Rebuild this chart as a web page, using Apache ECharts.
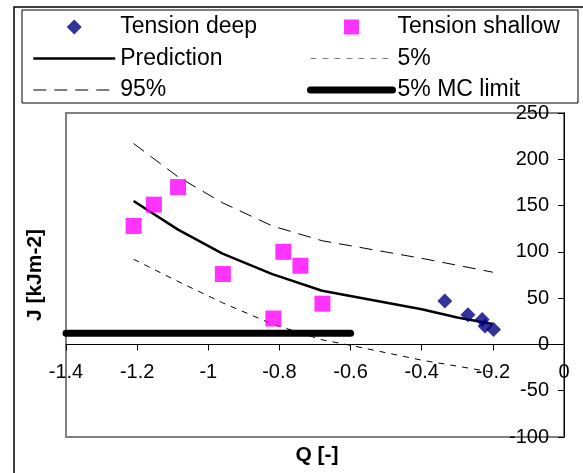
<!DOCTYPE html>
<html>
<head>
<meta charset="utf-8">
<script src="https://cdn.jsdelivr.net/npm/echarts@6/dist/echarts.min.js"></script>
<style>
  html, body { margin: 0; padding: 0; background: #fff; }
  #chart { width: 583px; height: 473px; }
</style>
</head>
<body>
<div id="chart"></div>
<script>
// J vs Q, measured points + prediction band
const tensionDeep = [[-0.335, 47], [-0.27, 32], [-0.23, 27], [-0.222, 20], [-0.198, 16]];
const tensionShallow = [
  [-1.21, 128], [-1.153, 151], [-1.085, 170], [-0.959, 76],
  [-0.789, 100], [-0.741, 85], [-0.679, 44], [-0.817, 28]
];
const prediction = [[-1.21, 155], [-1.085, 124], [-0.96, 98], [-0.82, 76], [-0.68, 58], [-0.4, 38], [-0.3, 29], [-0.2, 22]];
const lower5 = [[-1.21, 92], [-1.085, 68], [-0.96, 45], [-0.82, 22], [-0.68, 5], [-0.6, -1], [-0.4, -17], [-0.2, -30]];
const upper95 = [[-1.21, 217], [-1.085, 181], [-0.96, 153], [-0.82, 128], [-0.68, 112], [-0.4, 93], [-0.2, 78]];
const mcLimit = [[-1.4, 12], [-0.6, 12]];

const FONT = 'Arial, "Liberation Sans", sans-serif';
const Y_MIN = -100, Y_MAX = 250;
const GRID = { left: 66, right: 19, top: 113, bottom: 36 };

// x axis sits on J = 0, shifted up from the grid bottom
const gridH = 473 - GRID.top - GRID.bottom;
const zeroOffset = -gridH * (0 - Y_MIN) / (Y_MAX - Y_MIN);

const DIAMOND = 'path://M0,-1L1,0L0,1L-1,0Z';
const SQUARE = 'path://M0,0L1,0L1,1L0,1Z';
const NO_MARK = { color: 'rgba(0,0,0,0)', borderWidth: 0 };

const chart = echarts.init(document.getElementById('chart'));

const legendBase = {
  orient: 'vertical', itemWidth: 82, itemHeight: 15, itemGap: 8.5, top: 10.5,
  symbolKeepAspect: true, selectedMode: false,
  textStyle: { fontFamily: FONT, fontSize: 23, color: '#000' }
};

const option = {
  animation: false,
  backgroundColor: '#fff',
  graphic: [
    // outer chart frame
    { type: 'rect', x: 14, y: 7, shape: { width: 600, height: 500 }, style: { fill: 'none', stroke: '#000', lineWidth: 1.5 }, z: -10 },
    // legend frame
    { type: 'rect', x: 22, y: 10, shape: { width: 556, height: 93 }, style: { fill: 'none', stroke: '#000', lineWidth: 1 }, z: -5 },
    {
      type: 'text', x: 317, y: 455,
      style: { text: 'Q [-]', font: 'bold 21px ' + FONT, fill: '#000', align: 'center', verticalAlign: 'middle' }
    },
    {
      type: 'text', x: 35, y: 275, rotation: Math.PI / 2,
      style: { text: 'J [kJm-2]', font: 'bold 21px ' + FONT, fill: '#000', align: 'center', verticalAlign: 'middle' }
    }
  ],
  legend: [
    Object.assign({}, legendBase, {
      left: 27,
      data: [
        { name: 'Tension deep', icon: DIAMOND },
        { name: 'Prediction', lineStyle: { width: 2.5 } },
        { name: '95%', lineStyle: { width: 1 } }
      ]
    }),
    Object.assign({}, legendBase, {
      left: 302,
      data: [
        { name: 'Tension shallow', icon: SQUARE },
        { name: '5%', lineStyle: { width: 1, color: '#808080' } },
        { name: '5% MC limit', lineStyle: { width: 7, cap: 'round' } }
      ]
    })
  ],
  grid: Object.assign({}, GRID, {
    show: true, borderColor: '#808080', borderWidth: 2, backgroundColor: '#fff'
  }),
  xAxis: {
    type: 'value', min: -1.4, max: 0, interval: 0.2,
    offset: zeroOffset,
    axisLine: { onZero: false, lineStyle: { color: '#000', width: 1 } },
    axisTick: { show: true, length: 6, lineStyle: { color: '#000' } },
    axisLabel: {
      fontFamily: FONT, fontSize: 20, color: '#000', margin: 18,
      showMinLabel: true, showMaxLabel: true,
      formatter: (v) => String(Math.round(v * 10) / 10)
    },
    splitLine: { show: false }
  },
  yAxis: {
    type: 'value', position: 'right', min: Y_MIN, max: Y_MAX, interval: 50,
    axisLine: { show: true, onZero: false, lineStyle: { color: '#000', width: 1 } },
    axisTick: { show: true, inside: true, length: 6, lineStyle: { color: '#000' } },
    axisLabel: { inside: true, margin: 15, fontFamily: FONT, fontSize: 20, color: '#000' },
    splitLine: { show: false }
  },
  series: [
    {
      name: 'Tension deep', type: 'scatter', data: tensionDeep,
      symbol: 'diamond', symbolSize: 15, itemStyle: { color: '#000080' }, z: 10
    },
    {
      name: 'Tension shallow', type: 'scatter', data: tensionShallow,
      symbol: 'rect', symbolSize: 16, itemStyle: { color: '#FF00FF' }, z: 10
    },
    {
      name: 'Prediction', type: 'line', data: prediction, symbol: 'none',
      lineStyle: { color: '#000', width: 2.5 }, itemStyle: NO_MARK, z: 4
    },
    {
      name: '5%', type: 'line', data: lower5, symbol: 'none',
      lineStyle: { color: '#000', width: 1, type: [6, 6] }, itemStyle: NO_MARK, z: 3
    },
    {
      name: '95%', type: 'line', data: upper95, symbol: 'none',
      lineStyle: { color: '#000', width: 1, type: [13, 8] }, itemStyle: NO_MARK, z: 3
    },
    {
      name: '5% MC limit', type: 'line', data: mcLimit, symbol: 'none',
      lineStyle: { color: '#000', width: 7, cap: 'round' }, itemStyle: NO_MARK, z: 5
    }
  ]
};

chart.setOption(option);
</script>
</body>
</html>
